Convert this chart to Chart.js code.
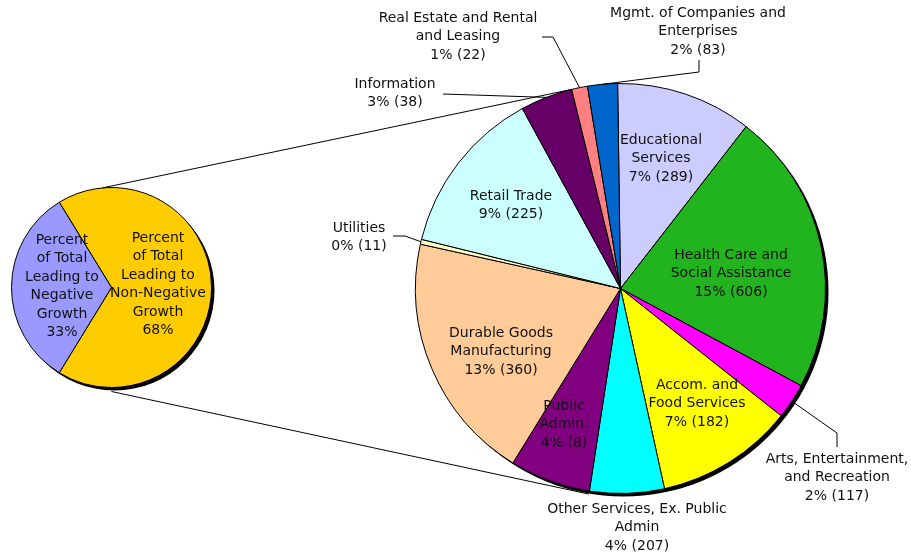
<!DOCTYPE html>
<html lang="en">
<head>
<meta charset="UTF-8">
<script src="https://cdn.jsdelivr.net/npm/chart.js"></script>
<style>
  body { margin: 0; background: #fff; }
  #wrap { position: relative; width: 911px; height: 556px; }
  #wrap canvas { position: absolute; left: 0; top: 0; }
  #smallChart { pointer-events: none; }
</style>
</head>
<body>
<div id="wrap">
  <canvas id="bigChart" width="911" height="556"></canvas>
  <canvas id="smallChart" width="911" height="556"></canvas>
</div>
<script>
// breakdown of the non-negative growth share (percent of total, count)
var categories = [
  'Educational\nServices',
  'Health Care and\nSocial Assistance',
  'Arts, Entertainment,\nand Recreation',
  'Accom. and\nFood Services',
  'Other Services, Ex. Public\nAdmin',
  'Public\nAdmin.',
  'Durable Goods\nManufacturing',
  'Utilities',
  'Retail Trade',
  'Information',
  'Real Estate and Rental\nand Leasing',
  'Mgmt. of Companies and\nEnterprises'
];
var shares = [7.29, 15.19, 1.91, 7.4, 3.99, 4.33, 13.37, 0.26, 8.97, 2.8, 0.85, 1.6];
var counts = [289, 606, 117, 182, 207, 8, 360, 11, 225, 38, 22, 83];
var colors = ['#ccccff', '#21b41e', '#ff00ff', '#ffff00', '#00ffff', '#800080',
              '#ffcc99', '#ffffcc', '#ccffff', '#660066', '#ff8080', '#0066cc'];

// overall split
var groups = ['Percent\nof Total\nLeading to\nNon-Negative\nGrowth', 'Percent\nof Total\nLeading to\nNegative\nGrowth'];
var groupShares = [67.5, 32.5];
var groupColors = ['#ffcc00', '#9999ff'];

// where each label block is centred (x, y of first line) and optional leader line
var bigLabelPos = [
  [661, 140], [731, 255], [837, 459], [697, 385], [637, 509], [564, 406],
  [501, 333], [359, 228], [511, 196], [395, 84], [458, 18], [698, 13]
];
var leaders = {
  2: [[837, 447], [837, 433]],
  7: [[393, 236], [405, 236]],
  9: [[443, 94]],
  10: [[542, 37], [553, 37]],
  11: [[699, 60], [699, 72]]
};
var smallLabelPos = [[158, 238], [62, 240]];

var FONT = '14px "DejaVu Sans", Verdana, sans-serif';
var LH = 18.5;

function drawLines(ctx, text, x, y) {
  ctx.save();
  ctx.font = FONT;
  ctx.fillStyle = '#111';
  ctx.textAlign = 'center';
  ctx.textBaseline = 'middle';
  text.split('\n').forEach(function (t, i) { ctx.fillText(t, x, y + i * LH); });
  ctx.restore();
}

function arcPoint(el, angle, extra) {
  var r = el.outerRadius + (extra || 0);
  return [el.x + r * Math.cos(angle), el.y + r * Math.sin(angle)];
}

var shadowPlugin = {
  id: 'shadow',
  beforeDatasetsDraw: function (chart) {
    var el = chart.getDatasetMeta(0).data[0];
    var ctx = chart.ctx;
    ctx.save();
    ctx.fillStyle = '#000';
    ctx.beginPath();
    ctx.arc(el.x + 3, el.y + 3, el.outerRadius, 0, Math.PI * 2);
    ctx.fill();
    ctx.restore();
  }
};

var bigLabels = {
  id: 'bigLabels',
  afterDatasetsDraw: function (chart) {
    var ctx = chart.ctx;
    var arcs = chart.getDatasetMeta(0).data;
    arcs.forEach(function (el, i) {
      if (leaders[i]) {
        var mid = (el.startAngle + el.endAngle) / 2;
        var end = arcPoint(el, mid, 0);
        var pts = leaders[i].concat([end]);
        ctx.save();
        ctx.strokeStyle = '#000';
        ctx.lineWidth = 1;
        ctx.beginPath();
        pts.forEach(function (p, k) { k ? ctx.lineTo(p[0], p[1]) : ctx.moveTo(p[0], p[1]); });
        ctx.stroke();
        ctx.restore();
      }
      var txt = categories[i] + '\n' + Math.round(shares[i]) + '% (' + counts[i] + ')';
      drawLines(ctx, txt, bigLabelPos[i][0], bigLabelPos[i][1]);
    });
  }
};

var bigChart = new Chart(document.getElementById('bigChart'), {
  type: 'pie',
  data: {
    labels: categories,
    datasets: [{ data: shares, backgroundColor: colors, borderColor: '#000', borderWidth: 1 }]
  },
  options: {
    responsive: false,
    animation: false,
    rotation: -0.8,
    layout: { padding: { left: 415, right: 85, top: 83, bottom: 62 } },
    plugins: { legend: { display: false }, tooltip: { enabled: false } }
  },
  plugins: [shadowPlugin, bigLabels]
});

var smallLabels = {
  id: 'smallLabels',
  afterDatasetsDraw: function (chart) {
    var ctx = chart.ctx;
    var s = chart.getDatasetMeta(0).data[0];
    var arcs = bigChart.getDatasetMeta(0).data;
    // connectors from the small pie to the edges of the breakdown pie
    var a = arcPoint(s, -Math.PI / 2 - 0.09, 0);
    var b = arcPoint(arcs[9], arcs[9].endAngle, 0);
    var c = arcPoint(s, Math.PI / 2, 4);
    var d = arcPoint(arcs[4], arcs[4].endAngle, 3);
    ctx.save();
    ctx.strokeStyle = '#000';
    ctx.lineWidth = 1;
    ctx.beginPath();
    ctx.moveTo(a[0], a[1]); ctx.lineTo(b[0], b[1]);
    ctx.moveTo(c[0], c[1]); ctx.lineTo(d[0], d[1]);
    ctx.stroke();
    ctx.restore();
    chart.getDatasetMeta(0).data.forEach(function (el, i) {
      var txt = groups[i] + '\n' + Math.round(groupShares[i]) + '%';
      drawLines(ctx, txt, smallLabelPos[i][0], smallLabelPos[i][1]);
    });
  }
};

new Chart(document.getElementById('smallChart'), {
  type: 'pie',
  data: {
    labels: groups,
    datasets: [{ data: groupShares, backgroundColor: groupColors, borderColor: '#000', borderWidth: 1 }]
  },
  options: {
    responsive: false,
    animation: false,
    rotation: 90 - groupShares[0] * 1.8,
    layout: { padding: { left: 11, right: 699, top: 187, bottom: 168 } },
    plugins: { legend: { display: false }, tooltip: { enabled: false } }
  },
  plugins: [shadowPlugin, smallLabels]
});
</script>
</body>
</html>
